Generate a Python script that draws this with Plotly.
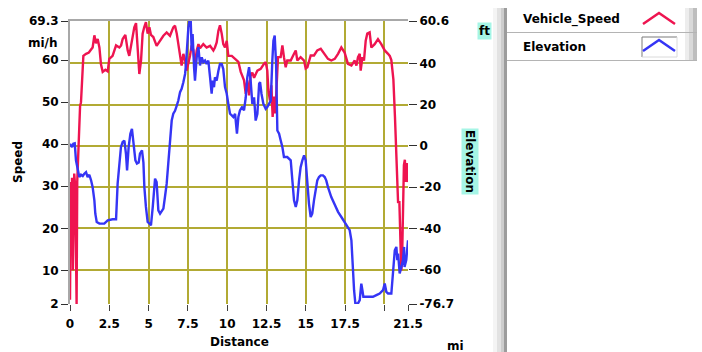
import plotly.graph_objects as go

# ---------------- data ----------------
speed_dist = [0.00, 0.05, 0.10, 0.13, 0.18, 0.22, 0.27, 0.33, 0.38, 0.42, 0.46, 0.50, 0.59, 0.64, 0.70,
              0.78, 0.85, 1.02, 1.20, 1.34, 1.44, 1.55, 1.65, 1.76, 1.87, 1.97, 2.08, 2.25, 2.40, 2.50,
              2.71, 2.93, 3.14, 3.25, 3.35, 3.52, 3.62, 3.67, 3.77, 3.88, 3.99, 4.09, 4.20, 4.31, 4.41,
              4.52, 4.62, 4.72, 4.83, 4.94, 5.05, 5.15, 5.30, 5.51, 5.73, 5.94, 6.15, 6.36, 6.57, 6.68,
              6.79, 6.89, 7.00, 7.10, 7.21, 7.32, 7.42, 7.53, 7.63, 7.74, 7.84, 7.95, 8.06, 8.17, 8.27,
              8.48, 8.69, 8.91, 9.12, 9.22, 9.33, 9.44, 9.54, 9.65, 9.75, 9.86, 9.97, 10.07, 10.29, 10.50,
              10.71, 10.86, 11.07, 11.18, 11.28, 11.39, 11.49, 11.60, 11.71, 11.92, 12.13, 12.34, 12.45,
              12.55, 12.62, 12.72, 12.81, 12.89, 12.98, 13.06, 13.15, 13.23, 13.40, 13.51, 13.61, 13.72,
              13.82, 14.04, 14.25, 14.36, 14.46, 14.67, 14.89, 14.99, 15.10, 15.31, 15.52, 15.73, 15.95,
              16.16, 16.41, 16.62, 16.84, 17.05, 17.26, 17.47, 17.68, 17.90, 18.11, 18.22, 18.32, 18.43,
              18.49, 18.60, 18.70, 18.81, 18.91, 19.06, 19.17, 19.38, 19.59, 19.80, 20.02, 20.23, 20.34,
              20.44, 20.50, 20.57, 20.67, 20.78, 20.87, 20.95, 21.02, 21.07, 21.12, 21.18, 21.24, 21.30,
              21.36, 21.42, 21.50]
speed_mph = [3, 31, 20, 32, 10, 31, 33, 30, 8, 2, 31, 36, 42, 49, 50,
             56, 61, 61.5, 61.8, 62.5, 63, 65.9, 64, 65, 63, 59, 57.2, 57.7, 57.3, 60.3,
             61, 63.5, 63, 63.5, 65, 66, 63, 62.3, 61, 63.5, 65.7, 67.8, 68.8, 62, 56.7,
             60, 66.3, 67.8, 69, 66.3, 67.8, 66, 65.5, 63.4, 64.6, 65.8, 66.6, 65.8, 67.8, 68.2,
             66.3, 63.8, 61.5, 58.7, 61.5, 60, 57.5, 59, 61, 63.5, 62.5, 59, 62.3, 63.8, 62.8,
             63.8, 63, 63.4, 62.3, 63, 64.2, 67, 68.3, 66.3, 63.8, 63, 64.6, 61, 61, 60.3,
             59.6, 57.2, 55.2, 52, 55.2, 51.6, 56.3, 57, 55.8, 57.5, 57.9, 59.1, 59.5,
             57.5, 52.8, 50.4, 54, 46.5, 51.3, 47.3, 53.5, 60.7, 60.7, 63.5, 60.7, 58.3,
             59.9, 59.9, 61.5, 62.3, 59.9, 60.7, 59.9, 58, 58.3, 61.1, 61.1, 62.3, 62.7,
             61.5, 60.3, 59.9, 60.3, 61.5, 63, 61.8, 59.1, 58.7, 59.9, 58.7, 60.7, 61.5,
             57.5, 60.7, 59.9, 64.6, 66.3, 66.6, 63, 63.8, 65, 63.8, 62.3, 61.5, 61,
             60, 58.3, 55.4, 46.6, 37.1, 26, 26.5, 15, 10, 12, 25, 35, 36.3,
             31, 35.5, 31]

elev_dist = [0.00, 0.08, 0.13, 0.21, 0.30, 0.38, 0.49, 0.59, 0.70, 0.81, 0.91, 1.02, 1.12, 1.23, 1.34,
             1.44, 1.55, 1.61, 1.70, 1.87, 2.18, 2.40, 2.71, 2.93, 3.03, 3.14, 3.24, 3.35, 3.46, 3.56,
             3.63, 3.73, 3.84, 3.94, 4.05, 4.16, 4.26, 4.37, 4.45, 4.58, 4.67, 4.73, 4.83, 4.94, 5.09,
             5.15, 5.26, 5.36, 5.41, 5.51, 5.62, 5.73, 5.94, 6.04, 6.15, 6.25, 6.36, 6.47, 6.57, 6.68,
             6.79, 6.89, 7.00, 7.10, 7.21, 7.32, 7.38, 7.46, 7.53, 7.59, 7.68, 7.74, 7.80, 7.89, 7.95,
             8.06, 8.17, 8.27, 8.38, 8.48, 8.59, 8.69, 8.80, 8.91, 9.01, 9.08, 9.16, 9.22, 9.33, 9.44,
             9.54, 9.65, 9.75, 9.86, 9.97, 10.07, 10.18, 10.29, 10.39, 10.50, 10.62, 10.71, 10.81, 10.96,
             11.07, 11.18, 11.28, 11.39, 11.49, 11.60, 11.71, 11.81, 11.92, 12.03, 12.09, 12.18, 12.30,
             12.45, 12.55, 12.66, 12.77, 12.87, 12.94, 13.02, 13.11, 13.19, 13.30, 13.40, 13.51, 13.61,
             13.82, 14.04, 14.14, 14.25, 14.36, 14.46, 14.57, 14.67, 14.78, 14.89, 14.99, 15.10, 15.20,
             15.31, 15.41, 15.52, 15.63, 15.73, 15.84, 15.95, 16.09, 16.20, 16.30, 16.41, 16.62, 16.84,
             17.05, 17.26, 17.47, 17.68, 17.79, 17.90, 17.96, 18.00, 18.07, 18.15, 18.32, 18.43, 18.53,
             18.60, 18.66, 18.85, 19.06, 19.27, 19.49, 19.70, 19.91, 20.02, 20.12, 20.23, 20.44, 20.55,
             20.66, 20.76, 20.82, 20.87, 20.93, 20.97, 21.08, 21.18, 21.25, 21.28, 21.39, 21.45, 21.50]
elev_ft = [1, -0.5, -0.6, 1, 1.2, -7, -11.9, -15.1, -14, -14.6, -13.5, -12.7, -15.1, -14, -16.7,
           -20, -26.4, -32.9, -36.9, -37.7, -37.7, -36.1, -35.6, -35.6, -18.3, -7, -0.6, 1.9, 2.6, -3.8,
           -11.9, -0.6, 5.9, 8.3, -0.6, -7, -8.6, -8.1, -3.8, -2.2, -8.1, -20, -29.6, -36.9, -38,
           -38.5, -30, -16.7, -15.9, -17.5, -31.3, -32.9, -30.4, -24.8, -18.3, -8.6, 4.3, 12.3, 15.6, 17,
           19.6, 22, 26.1, 27.7, 30.9, 34.9, 39.8, 51.1, 57.5, 60.6, 60.6, 46.2, 54.3, 38.2, 31.7,
           43, 47.9, 39, 43, 40.6, 41.4, 39.8, 41.4, 33.3, 25.3, 31.7, 28.5, 33.3, 31.7, 36.5,
           39.8, 39.8, 37.3, 28.5, 25.3, 20.4, 15.6, 14.8, 14, 15.6, 6, 14, 17.2, 19,
           17.2, 23.6, 33.3, 38.2, 31.7, 20.4, 23.6, 12.3, 15.6, 30.1, 30.9, 25.3, 20.4,
           18, 18.8, 20.4, 22, 41.4, 51.1, 53.5, 39.8, 7.5, 5.9, 2.7, -0.6, -5.4,
           -5.4, -7, -16.7, -26.4, -29.6, -26.4, -16.7, -10.3, -7, -4.6, -7, -18.3, -28,
           -34.5, -32.9, -26.4, -20, -16.7, -15.1, -14.3, -14.3, -15.1, -16.7, -20, -24.8, -28.8,
           -32, -34.5, -36.9, -39.3, -40.9, -45.8, -57.1, -65.2, -70, -76.4, -76.4, -74.8, -66.8,
           -70, -73.2, -73.2, -73.2, -73.2, -72.4, -71.6, -70, -66.8, -70.8, -71.6, -71.6, -58.7,
           -50.6, -49, -55.4, -52.2, -58.7, -61.9, -58.7, -55.4, -49, -58.7, -55.4, -49, -45.8]

x_ticks = [0, 2.5, 5, 7.5, 10, 12.5, 15, 17.5, 20, 21.5]
x_labels = ["0", "2.5", "5", "7.5", "10", "12.5", "15", "17.5", "", "21.5"]
x_grid = [2.5, 5, 7.5, 10, 12.5, 15, 17.5, 20]
speed_ticks = [2, 10, 20, 30, 40, 50, 60, 69.3]
speed_labels = ["2", "10", "20", "30", "40", "50", "60", "69.3"]
elev_ticks = [-76.7, -60, -40, -20, 0, 20, 40, 60.6]
elev_labels = ["-76.7", "-60", "-40", "-20", "0", "20", "40", "60.6"]
elev_grid = [-60, -40, -20, 0, 20, 40]
series_names = ["Vehicle_Speed", "Elevation"]

# ---------------- style ----------------
RED = "#EE1450"
BLUE = "#3535F5"
GRID = "#B2AA34"
BORDER = "#A8A8A8"
CYAN = "#A6F5E6"
FONT = dict(family="DejaVu Sans", size=12, color="black", weight="bold")

L, R, T, B = 70, 294, 21, 48
W, H = 702, 352
PW, PH = W - L - R, H - T - B


def PX(p):
    return (p - L) / PW


def PY(p):
    return (H - B - p) / PH


fig = go.Figure()
# invisible companion trace so the grid/top-border axes (x2, y3) get drawn
fig.add_trace(go.Scatter(x=elev_dist, y=elev_ft, mode="lines", xaxis="x2", yaxis="y3",
                         opacity=0, hoverinfo="skip", showlegend=False,
                         line=dict(color=BLUE, width=0.1)))
fig.add_trace(go.Scatter(x=speed_dist, y=speed_mph, mode="lines", name=series_names[0],
                         line=dict(color=RED, width=2.4), xaxis="x", yaxis="y", showlegend=False))
fig.add_trace(go.Scatter(x=elev_dist, y=elev_ft, mode="lines", name=series_names[1],
                         line=dict(color=BLUE, width=2.4), xaxis="x", yaxis="y2", showlegend=False))

fig.update_layout(
    width=W, height=H,
    margin=dict(l=L, r=R, t=T, b=B),
    paper_bgcolor="white", plot_bgcolor="white",
    showlegend=False,
    xaxis=dict(range=[0, 21.5], tickmode="array", tickvals=x_ticks, ticktext=x_labels,
               showgrid=False, zeroline=False, showline=False, ticks="outside", ticklen=6,
               tickcolor="#404040", tickfont=FONT, ticklabelstandoff=3),
    xaxis2=dict(range=[0, 21.5], overlaying="x", anchor="y3", side="top", tickmode="array",
                tickvals=x_grid, showticklabels=False, ticks="", showgrid=True, gridcolor=GRID,
                gridwidth=2, zeroline=False, showline=True, linecolor=BORDER, linewidth=2),
    yaxis=dict(range=[2, 69.3], tickmode="array", tickvals=speed_ticks, ticktext=speed_labels,
               showgrid=False, zeroline=False, showline=True, linecolor=BORDER, linewidth=2,
               ticks="outside", ticklen=7, tickcolor="#303030", tickfont=FONT),
    yaxis2=dict(range=[-76.7, 60.6], overlaying="y", anchor="x", side="right", tickmode="array",
                tickvals=elev_ticks, ticktext=elev_labels, showgrid=False, zeroline=False,
                showline=False, ticks="outside", ticklen=8, tickcolor="#303030", tickfont=FONT),
    yaxis3=dict(range=[-76.7, 60.6], overlaying="y", anchor="x2", side="left", tickmode="array",
                tickvals=elev_grid, showticklabels=False, ticks="", showgrid=True, gridcolor=GRID,
                gridwidth=2, zeroline=False, showline=False),
)

ann = []


def text(px, py, s, angle=0, bg=None, xanchor="center"):
    d = dict(x=PX(px), y=PY(py), xref="paper", yref="paper", text=s, showarrow=False,
             font=FONT, textangle=angle, xanchor=xanchor, yanchor="middle")
    if bg:
        d.update(bgcolor=bg, borderpad=1)
    ann.append(d)


text(239, 342, "Distance")
text(455, 346, "mi")
text(18, 162, "Speed", angle=-90)
text(43, 43, "mi/h")
text(470, 161, "Elevation", angle=90, bg=CYAN)
text(484, 31, "ft", bg=CYAN)
text(521, 19.5, series_names[0], xanchor="left")
text(521, 47, series_names[1], xanchor="left")
fig.update_layout(annotations=ann)

shapes = []


def rect(x0, y0, x1, y1, fill):
    shapes.append(dict(type="rect", xref="paper", yref="paper", x0=PX(x0), x1=PX(x1),
                       y0=PY(y0), y1=PY(y1), fillcolor=fill, line=dict(width=0), layer="below"))


def seg(x0, y0, x1, y1, color, w=1):
    shapes.append(dict(type="line", xref="paper", yref="paper", x0=PX(x0), x1=PX(x1),
                       y0=PY(y0), y1=PY(y1), line=dict(color=color, width=w)))


# legend panel left bar (bevel)
rect(493, 8, 497, 352, "#F4F4F4")
rect(497, 8, 501, 352, "#E2E2E2")
rect(501, 8, 504, 352, "#CDCDCD")
rect(504, 8, 507, 352, "#9C9C9C")
# legend rows
for (y0, y1) in [(8, 32), (33, 60)]:
    rect(507, y0, 685, y1, "white")
    rect(685, y0, 689, y1, "#EDEDED")
    rect(689, y0, 693, y1, "#D9D9D9")
    rect(693, y0, 697, y1, "#BDBDBD")
    seg(507, y1 + 0.5, 697, y1 + 0.5, "#B4B4B4", 1)
# glyph box for the second row
seg(642, 37, 677, 37, "#7A7A7A", 1)
seg(642, 37, 642, 57, "#7A7A7A", 1)
seg(677, 37, 677, 57, "#DADADA", 1)
seg(642, 57, 677, 57, "#DADADA", 1)


def caret(yb, color):
    p = "M {} {} L {} {} L {} {}".format(PX(643), PY(yb), PX(659), PY(yb - 11), PX(675), PY(yb))
    shapes.append(dict(type="path", xref="paper", yref="paper", path=p,
                       line=dict(color=color, width=2.5)))


caret(24, RED)
caret(51, BLUE)
fig.update_layout(shapes=shapes)

fig.write_html("out.html", config={"displayModeBar": False},
               post_script="document.body.style.margin='0';document.body.style.padding='0';")
